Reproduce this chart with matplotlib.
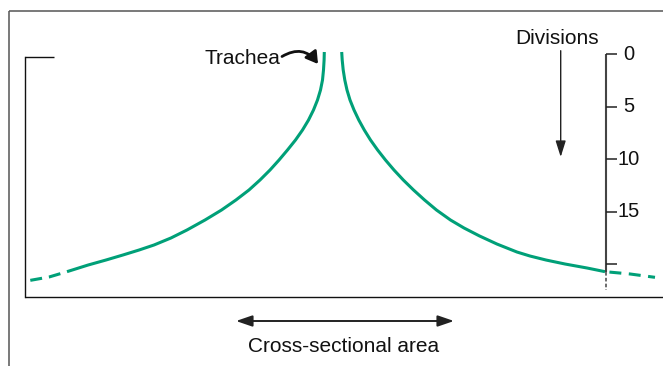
import matplotlib
matplotlib.use("Agg")
import matplotlib.pyplot as plt
from matplotlib.patches import FancyArrowPatch

plt.rcParams['font.family'] = ['Liberation Sans', 'DejaVu Sans']
plt.rcParams['lines.scale_dashes'] = False

# ---- data (divisions vs. relative cross-sectional area, left side negative) ----
div_right = [-0.19, 0.57, 1.52, 2.48, 3.43, 4.38, 5.33, 6.29, 7.24, 8.19, 9.14, 10.10,
             11.05, 12.00, 12.95, 13.90, 14.86, 15.81, 16.57, 17.33, 18.10, 18.86,
             19.24, 19.62, 20.00, 20.38, 20.73]
area_right = [8.7, 9.2, 10.2, 11.8, 14.0, 17.0, 21.0, 25.8, 31.3, 37.5, 44.6, 52.5,
              61.0, 70.3, 80.5, 91.5, 103.5, 117.5, 131, 146.5, 164, 184,
              197, 213, 232, 254, 272]
div_right_ext = [20.73, 20.95, 21.27]
area_right_ext = [272, 297, 322]

div_left = [-0.19, 0.57, 1.52, 2.48, 3.43, 4.38, 5.33, 6.29, 7.24, 8.19, 9.14, 10.10,
            11.05, 12.00, 12.95, 13.90, 14.86, 15.81, 16.76, 17.52, 18.19, 18.67,
            19.14, 19.62, 20.10, 20.43, 20.73]
area_left = [-8.7, -8.9, -9.5, -10.5, -12.5, -15.5, -19.5, -24.5, -30.5, -37.5, -45.5, -54,
             -63, -73, -84, -97, -111.5, -128, -146, -162, -179, -194,
             -210, -227, -245, -256, -266]
div_left_ext = [20.73, 21.24, 21.59]
area_left_ext = [-266, -284, -304.7]

div_ticks = [0, 5, 10, 15, 20]
div_tick_labels = ['0', '5', '10', '15', '']
scale_area = 272.5      # position of the divisions scale on the area axis
scale_end_div = 20.73
scale_dash_end_div = 22.48

GREEN = '#00a078'
W, H = 663, 366
fig = plt.figure(figsize=(W / 100, H / 100), dpi=100)

ax = fig.add_axes([0, 0, 1, 1])
ax.set_xlim(-333, 330)
ax.set_ylim(29.714, -5.143)
ax.axis('off')

# pixel overlay for frame / annotations
pax = fig.add_axes([0, 0, 1, 1])
pax.set_xlim(0, W)
pax.set_ylim(H, 0)
pax.axis('off')
pax.patch.set_alpha(0)

# curves
lw_curve = 2.2
ax.plot(area_right, div_right, color=GREEN, lw=lw_curve, solid_capstyle='butt',
        solid_joinstyle='round')
ax.plot(area_left, div_left, color=GREEN, lw=lw_curve, solid_capstyle='butt',
        solid_joinstyle='round')
ax.plot(area_right_ext, div_right_ext, color=GREEN, lw=lw_curve,
        linestyle=(10.8, (8.6, 5.4)), dash_capstyle='butt')
ax.plot(area_left_ext, div_left_ext, color=GREEN, lw=lw_curve,
        linestyle=(8.6, (8.6, 5.0)), dash_capstyle='butt')

# divisions scale
ax.plot([scale_area, scale_area], [div_ticks[0], scale_end_div], color='#444444', lw=1.5,
        solid_capstyle='butt')
ax.plot([scale_area, scale_area], [scale_end_div, scale_dash_end_div], color='#444444', lw=1.1,
        linestyle=(0, (2.6, 1.6)))
for d, lab in zip(div_ticks, div_tick_labels):
    ax.plot([scale_area, scale_area + 11.2], [d, d], color='#222222', lw=1.1,
            solid_capstyle='butt')
    if lab:
        ax.text(scale_area + 23.5, d, lab, ha='center', va='center', fontsize=14.5,
                color='#111111')

# outer frame
pax.plot([8.5, 8.5], [10.5, H], color='#555555', lw=1.1, solid_capstyle='butt')
pax.plot([8.5, W], [10.5, 10.5], color='#555555', lw=1.1, solid_capstyle='butt')
# inner frame
pax.plot([24.5, 24.5], [57.3, 297.3], color='#111111', lw=1.0, solid_capstyle='projecting')
pax.plot([24.5, 54.3], [57.3, 57.3], color='#111111', lw=1.0, solid_capstyle='butt')
pax.plot([24.5, W], [297.3, 297.3], color='#111111', lw=1.0, solid_capstyle='butt')

# texts
pax.text(280.5, 64, 'Trachea', ha='right', va='baseline', fontsize=15, color='#111111')
pax.text(557.5, 44, 'Divisions', ha='center', va='baseline', fontsize=15, color='#111111')
pax.text(344, 352.5, 'Cross-sectional area', ha='center', va='baseline', fontsize=15,
         color='#111111')

# arrows
pax.add_patch(FancyArrowPatch((560.7, 50.7), (560.7, 157), arrowstyle='-|>,head_length=7,head_width=2.2',
                              mutation_scale=1.4, lw=1.0, color='#222222', shrinkA=0, shrinkB=0))
pax.add_patch(FancyArrowPatch((236, 321), (454, 321), arrowstyle='<|-|>,head_length=7,head_width=2.4',
                              mutation_scale=1.4, lw=1.4, color='#222222', shrinkA=0, shrinkB=0))
pax.add_patch(FancyArrowPatch((282, 56.5), (318, 64), connectionstyle='arc3,rad=-0.45',
                              arrowstyle='-|>,head_length=5,head_width=3',
                              mutation_scale=1.4, lw=2.0, color='#111111', shrinkA=0, shrinkB=0))

fig.savefig('out.png', dpi=100)
